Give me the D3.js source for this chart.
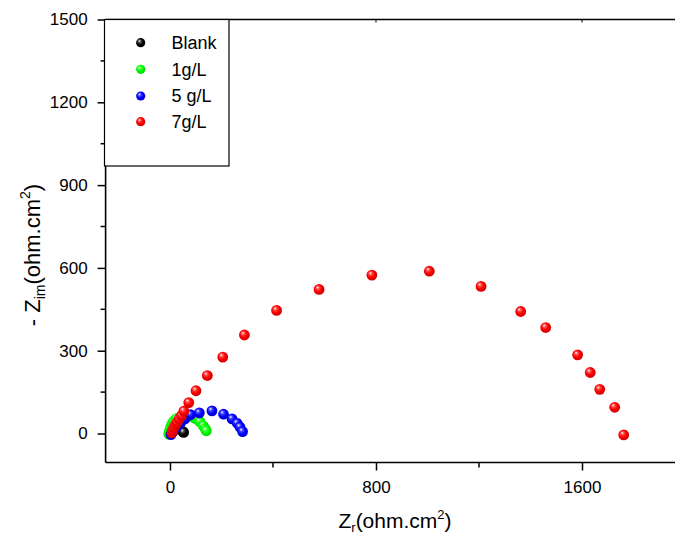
<!DOCTYPE html>
<html><head><meta charset="utf-8">
<script src="https://cdn.jsdelivr.net/npm/d3@7"></script>
<style>body{margin:0;background:#fff}svg{display:block}text{font-family:"Liberation Sans",Arial,sans-serif}</style>
</head><body><svg id="c" width="675" height="536"></svg>
<script>
const seriesNames = ["Blank","1g/L","5 g/L","7g/L"];
const seriesColors = ["#000000","#00ff00","#0000ff","#ff0000"];
const blankZr = [50,53];
const blankZim = [7,4];
const g1Zr = [-5,-2,2,7,14,25,40,58,78,98,116,129,137,141];
const g1Zim = [-2,10,22,34,45,54,60,63,62,55,43,28,17,10];
const g5Zr = [4,13,26,41,58,80,114,163,208,241,261,272,282];
const g5Zim = [-4,8,23,37,53,68,75,82,70,53,37,23,7];
const g7Zr = [7,10,15,22,28,36,45,54,73,101,145,205,289,414,579,784,1007,1208,1362,1459,1583,1632,1669,1727,1762];
const g7Zim = [2,11,21,32,41,53,65,81,112,155,210,277,357,446,522,574,588,533,442,384,285,221,160,95,-5];
const xTicks = [0,800,1600];
const xMinor = [400,1200,2000];
const yTicks = [0,300,600,900,1200,1500];
const yMinor = [150,450,750,1050,1350];

const svg = d3.select("#c");
const x = d3.scaleLinear().domain([-250,2000]).range([105.6,685]);
const y = d3.scaleLinear().domain([-105,1500]).range([462.5,19.5]);

const defs = svg.append("defs");
seriesColors.forEach((c,i)=>{
  const g = defs.append("radialGradient").attr("id","g"+i).attr("cx","0.45").attr("cy","0.45").attr("r","0.6").attr("fx","0.35").attr("fy","0.3");
  const base = d3.color(c);
  g.append("stop").attr("offset","0%").attr("stop-color","#ffffff");
  g.append("stop").attr("offset","25%").attr("stop-color", i===0?"#555":d3.interpolateRgb(c,"#fff")(0.3));
  g.append("stop").attr("offset","55%").attr("stop-color", c);
  g.append("stop").attr("offset","100%").attr("stop-color", base.darker(0.7).toString());
});

// frame lines
svg.append("line").attr("x1",x.range()[0]).attr("x2",675).attr("y1",y.range()[1]).attr("y2",y.range()[1]).attr("stroke","#000").attr("stroke-width",1.6);

const xAxis = svg.append("g").attr("transform",`translate(0,${y.range()[0]})`)
  .call(d3.axisBottom(x).tickValues(xTicks).tickSize(8).tickPadding(10).tickFormat(d3.format("d")));
xAxis.append("g").selectAll("line").data(xMinor).join("line")
  .attr("x1",d=>x(d)).attr("x2",d=>x(d)).attr("y1",0).attr("y2",5).attr("stroke","#000").attr("stroke-width",1.5);
const yAxis = svg.append("g").attr("transform",`translate(${x.range()[0]},0)`)
  .call(d3.axisLeft(y).tickValues(yTicks).tickSize(8).tickPadding(10).tickFormat(d3.format("d")));
yAxis.append("g").selectAll("line").data(yMinor).join("line")
  .attr("x1",0).attr("x2",-5).attr("y1",d=>y(d)).attr("y2",d=>y(d)).attr("stroke","#000").attr("stroke-width",1.5);
[xAxis,yAxis].forEach(a=>{
  a.select(".domain").attr("stroke-width",1.6).attr("d", a===xAxis ? `M${x.range()[0]},0H675` : `M0,${y.range()[0]}V${y.range()[1]}`);
  a.selectAll(".tick line").attr("stroke-width",1.5);
  a.selectAll("text").attr("font-size",17).attr("fill","#000").style("font-family","'Liberation Sans',Arial,sans-serif");
});
// top small ticks
svg.append("g").selectAll("line").data(xTicks).join("line")
  .attr("x1",d=>x(d)).attr("x2",d=>x(d)).attr("y1",y.range()[1]).attr("y2",y.range()[1]+3).attr("stroke","#000");

// data
const data = [[blankZr,blankZim],[g1Zr,g1Zim],[g5Zr,g5Zim],[g7Zr,g7Zim]];
data.forEach((s,i)=>{
  const pts = s[0].map((v,j)=>({zr:v, zi:s[1][j]}));
  svg.append("g").selectAll("circle").data(pts).join("circle")
    .attr("cx",d=>x(d.zr)).attr("cy",d=>y(d.zi)).attr("r",5.4).attr("fill",`url(#g${i})`);
});

// legend
const lg = svg.append("g");
lg.append("rect").attr("x",104.5).attr("y",19.5).attr("width",124.5).attr("height",146.5).attr("fill","#fff").attr("stroke","#000").attr("stroke-width",1.2);
const ly = [42.7,69.3,96,121.7];
seriesNames.forEach((n,i)=>{
  lg.append("circle").attr("cx",140.7).attr("cy",ly[i]).attr("r",4.6).attr("fill",`url(#g${i})`);
  lg.append("text").attr("x",171.5).attr("y",ly[i]+6.3).attr("font-size",18).text(n);
});

// axis titles
const xt = svg.append("text").attr("x",395).attr("y",528).attr("text-anchor","middle").attr("font-size",21);
xt.append("tspan").text("Z");
xt.append("tspan").attr("font-size",13).attr("dy",4).text("r");
xt.append("tspan").attr("dy",-4).text("(ohm.cm");
xt.append("tspan").attr("font-size",13).attr("dy",-9).text("2");
xt.append("tspan").attr("dy",9).text(")");

const yt = svg.append("text").attr("transform","translate(40,255) rotate(-90)").attr("text-anchor","middle").attr("font-size",22);
yt.append("tspan").text("- Z");
yt.append("tspan").attr("font-size",14).attr("dy",5).text("im");
yt.append("tspan").attr("dy",-5).text("(ohm.cm");
yt.append("tspan").attr("font-size",14).attr("dy",-10).text("2");
yt.append("tspan").attr("dy",10).text(")");
</script></body></html>
